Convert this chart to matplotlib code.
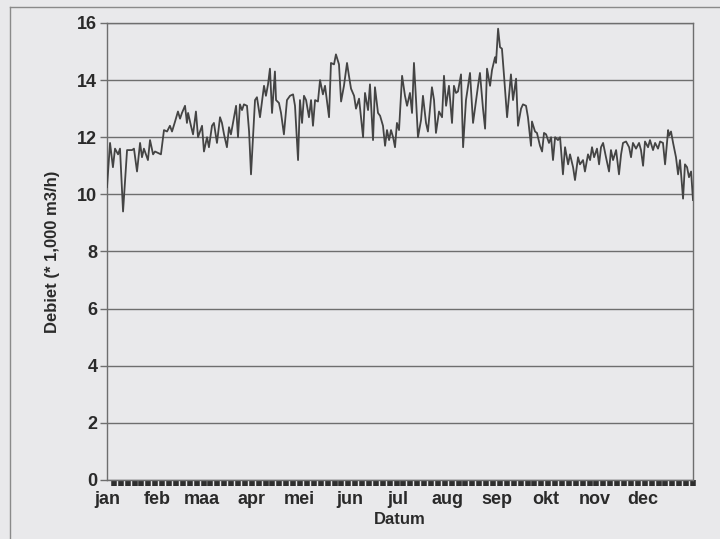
import numpy as np
import matplotlib
matplotlib.use("Agg")
import matplotlib.pyplot as plt
from matplotlib.lines import Line2D

# day of year (0 = 1 jan) and flow in 1,000 m3/h
days = [
    0.0, 1.9, 3.7, 5.0, 6.9, 8.1, 10.0, 12.5, 15.6, 16.8, 18.7, 20.6, 21.8, 23.0,
    25.5, 26.8, 28.7, 29.9, 31.8, 33.6, 35.5, 37.4, 39.2, 40.5, 42.4, 44.2, 45.5,
    46.7, 48.6, 49.8, 50.5, 52.3, 53.6, 55.4, 56.7, 59.2, 60.4, 62.3, 63.5, 65.4,
    66.6, 68.5, 70.4, 71.6, 72.9, 74.7, 76.0, 77.2, 78.5, 80.4, 81.6, 82.8, 84.1,
    85.3, 87.2, 88.5, 89.7,
    92.2, 93.4, 95.3, 97.8, 99.0, 100.3, 101.5, 102.8, 104.6, 105.3, 107.1, 108.4,
    110.2, 112.1, 114.0, 115.9, 117.1, 119.0, 120.2, 121.5, 122.7, 124.0, 125.8,
    127.1, 128.3, 129.6, 131.4, 132.7, 134.5, 135.8, 138.3, 139.5, 141.4, 142.6,
    144.5, 145.8, 147.6, 149.5, 150.7, 152.0, 153.9, 155.1, 157.0, 159.5, 160.7,
    162.6, 163.8, 165.7, 166.9, 168.8, 170.1, 171.9, 173.2, 174.4, 175.7, 176.9,
    178.2, 179.4, 180.6, 181.9,
    183.8, 185.6, 186.9, 188.7, 190.0, 191.2, 192.5, 193.7, 195.6, 196.8, 198.7,
    199.9, 202.4, 203.7, 204.9, 206.8, 208.7, 209.9, 211.2, 213.0, 214.9, 216.1,
    217.4, 218.6, 220.5, 221.8, 223.6, 224.9, 226.1, 228.0, 229.9, 231.1, 232.3,
    234.2, 235.5, 236.7, 238.6, 239.8, 241.7, 242.3, 243.6, 244.8, 246.0, 247.3,
    249.2, 251.6, 252.9, 254.8, 256.0, 257.9, 259.1, 261.0, 262.2, 264.1, 264.7,
    266.6, 267.8, 269.7, 271.0, 272.2, 273.5,
    275.3, 276.6, 277.8, 279.1, 280.9, 282.2, 284.0, 285.3, 287.2, 288.4, 290.3,
    291.5, 293.4, 294.6, 296.5, 297.7, 299.6, 300.9, 302.1, 303.4, 305.2, 306.5,
    307.7, 309.0, 310.8, 312.7, 313.9, 315.2, 317.1, 318.9, 320.2, 321.4, 323.3,
    325.2, 326.4, 327.6, 329.5, 331.4, 332.6, 333.9, 335.1, 337.0, 338.2, 340.1,
    341.4, 343.2, 344.5, 346.3, 347.6, 349.5, 350.1, 351.3, 352.6, 354.4, 355.7,
    356.9, 358.8, 360.0, 361.3, 362.5, 363.8, 365.0,
]
debiet = [
    10.25, 11.8, 10.95, 11.6, 11.4, 11.6, 9.4, 11.55, 11.55, 11.6, 10.8, 11.8, 11.3, 11.6,
    11.2, 11.9, 11.4, 11.5, 11.45, 11.4, 12.25, 12.2, 12.4, 12.2, 12.55, 12.9, 12.65,
    12.85, 13.1, 12.5, 12.85, 12.4, 12.1, 12.9, 12.0, 12.4, 11.5, 12.0, 11.65, 12.4,
    12.5, 11.8, 12.7, 12.5, 12.1, 11.65, 12.35, 12.1, 12.5, 13.1, 12.0, 13.15, 12.95,
    13.15, 13.1, 12.2, 10.7,
    13.3, 13.4, 12.7, 13.8, 13.45, 13.85, 14.4, 12.85, 14.3, 13.3, 13.2, 12.85,
    12.1, 13.3, 13.45, 13.5, 13.1, 11.2, 13.3, 12.5, 13.45, 13.3, 12.7,
    13.3, 12.4, 13.3, 13.25, 14.0, 13.5, 13.8, 12.7, 14.6, 14.55, 14.9,
    14.55, 13.25, 13.8, 14.6, 14.15, 13.7, 13.45, 13.0, 13.35, 12.0, 13.55,
    12.95, 13.85, 11.9, 13.75, 12.85, 12.75, 12.4, 11.7, 12.25, 11.9, 12.25,
    12.0, 11.65, 12.5, 12.25,
    14.15, 13.45, 13.1, 13.55, 12.85, 14.6, 13.3, 12.0, 12.6, 13.45, 12.5,
    12.2, 13.75, 13.3, 12.15, 12.9, 12.7, 14.15, 13.1, 13.8, 12.5, 13.8,
    13.55, 13.6, 14.2, 11.65, 13.3, 13.8, 14.25, 12.5, 13.3, 13.8, 14.25,
    13.0, 12.3, 14.4, 13.8, 14.35, 14.8, 14.6, 15.8, 15.15, 15.1, 14.15,
    12.7, 14.2, 13.3, 14.05, 12.4, 13.0, 13.15, 13.1, 12.7, 11.7, 12.55,
    12.2, 12.15, 11.7, 11.5, 12.15, 12.1,
    11.8, 12.0, 11.2, 12.0, 11.9, 12.0, 10.7, 11.65, 11.05, 11.4, 10.95,
    10.5, 11.3, 11.05, 11.2, 10.8, 11.4, 11.2, 11.65, 11.3, 11.6, 11.05,
    11.65, 11.8, 11.3, 10.8, 11.55, 11.2, 11.55, 10.7, 11.4, 11.8, 11.85,
    11.65, 11.3, 11.8, 11.6, 11.8, 11.55, 11.0, 11.85, 11.65, 11.9, 11.55,
    11.8, 11.6, 11.85, 11.8, 11.05, 12.25, 12.05, 12.2, 11.8, 11.3, 10.7,
    11.2, 9.85, 11.05, 10.95, 10.6, 10.8, 9.8,
]
month_starts = [0, 31, 59, 90, 120, 151, 181, 212, 243, 273, 304, 334]
month_labels = ["jan", "feb", "maa", "apr", "mei", "jun",
                "jul", "aug", "sep", "okt", "nov", "dec"]
y_ticks = [0, 2, 4, 6, 8, 10, 12, 14, 16]

paper = "#e9e9eb"
text_col = "#2a2a2a"

plt.rcParams["font.family"] = ["Liberation Sans", "DejaVu Sans"]

fig = plt.figure(figsize=(7.2, 5.39), dpi=100, facecolor=paper)
ax = fig.add_axes([0.1486, 0.1095, 0.8139, 0.8479])
ax.set_facecolor(paper)

# horizontal grid
for v in y_ticks:
    ax.axhline(v, color="#6e6e6e", lw=1.0, zorder=1)

ax.plot(days, debiet, color="#444444", lw=1.3, zorder=3)

ax.set_xlim(0, 365)
ax.set_ylim(0, 16)

ax.set_yticks(y_ticks)
ax.set_yticklabels([str(v) for v in y_ticks], fontsize=13, fontweight="bold", color=text_col)
ax.tick_params(axis="y", direction="out", length=5, width=1, color="#6e6e6e", pad=2)

ax.set_xticks(month_starts)
ax.set_xticklabels(month_labels, fontsize=13, fontweight="bold", color=text_col)
ax.tick_params(axis="x", which="major", length=0, pad=8)
ax.set_xticks(np.linspace(0, 365, 86), minor=True)
ax.tick_params(axis="x", which="minor", direction="out", length=4.5, width=4.0, color="#2e2e2e")

for side in ["left", "right", "top", "bottom"]:
    ax.spines[side].set_color("#6e6e6e")
    ax.spines[side].set_linewidth(1.0)

ax.set_xlabel("Datum", fontsize=12, fontweight="bold", color=text_col, labelpad=3)
ax.set_ylabel("Debiet (* 1,000 m3/h)", fontsize=12, fontweight="bold", color=text_col, labelpad=12)

# outer frame of the scanned figure
fig.add_artist(Line2D([10 / 720, 1.0], [1 - 7 / 539, 1 - 7 / 539], transform=fig.transFigure,
                      color="#8a8a8a", lw=1.0))
fig.add_artist(Line2D([10 / 720, 10 / 720], [0.0, 1 - 7 / 539], transform=fig.transFigure,
                      color="#8a8a8a", lw=1.0))

fig.savefig("out.png", dpi=100, facecolor=paper)
